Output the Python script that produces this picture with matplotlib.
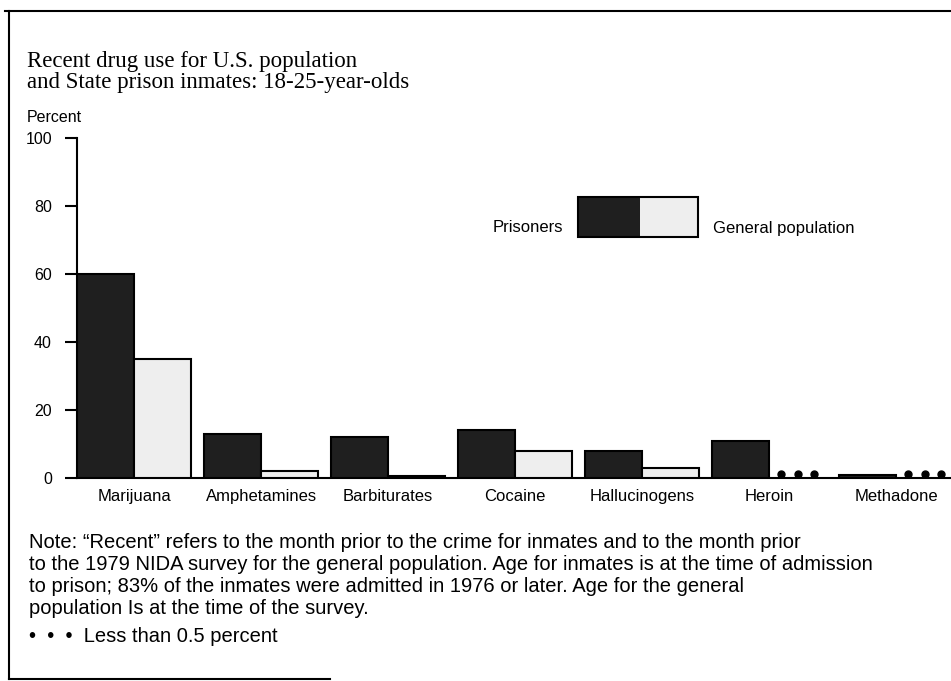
import numpy as np
import matplotlib
matplotlib.use('Agg')
import matplotlib.pyplot as plt
from matplotlib.patches import Rectangle
from matplotlib.lines import Line2D

#---DATA---
drugs = ['Marijuana', 'Amphetamines', 'Barbiturates', 'Cocaine',
	'Hallucinogens', 'Heroin', 'Methadone']
prisoners = [60, 13, 12, 14, 8, 11, 1]
# None = less than 0.5 percent (shown as dots)
general_pop = [35, 2, 0.6, 8, 3, None, None]
y_ticks = [0, 20, 40, 60, 80, 100]

title_lines = ['Recent drug use for U.S. population',
	'and State prison inmates: 18-25-year-olds']
note_lines = ['Note: \u201cRecent\u201d refers to the month prior to the crime for inmates and to the month prior',
	'to the 1979 NIDA survey for the general population. Age for inmates is at the time of admission',
	'to prison; 83% of the inmates were admitted in 1976 or later. Age for the general',
	'population Is at the time of the survey.']
dots_note = '\u2022  \u2022  \u2022  Less than 0.5 percent'

#---STYLE---
W, H = 951, 681
dark = '#1f1f1f'
light = '#eeeeee'
sans = 'Liberation Sans'
serif = 'Liberation Serif'

def fx(px):
	return px / W
def fy(py):
	return 1 - py / H

fig = plt.figure(figsize=(W / 100, H / 100), dpi=100)
ax = fig.add_axes([fx(77), fy(478), fx(951 - 77), (478 - 138) / H])

#---PLOT---
x = np.arange(len(drugs))
w = 0.45
ax.bar(x - w / 2, prisoners, width=w, color=dark, edgecolor='black', linewidth=1.5, zorder=3)
gp_x = [xi + w / 2 for xi, v in zip(x, general_pop) if v is not None]
ax.bar(gp_x, [v for v in general_pop if v is not None], width=w, color=light,
	edgecolor='black', linewidth=1.5, zorder=3)

# dots for less than 0.5 percent
for xi, v in zip(x, general_pop):
	if v is None:
		ax.plot(xi + w / 2 + np.array([-0.13, 0, 0.13]), [1.2, 1.2, 1.2], 'o',
			color='black', markersize=5, zorder=4, clip_on=False)

#---FORMATTING---
ax.set_xlim(-w, -w + (W - 77) / 127)
ax.set_ylim(0, 100)
ax.set_yticks(y_ticks)
ax.set_yticklabels([str(t) for t in y_ticks], fontsize=11.5, family=sans)
ax.set_xticks(x)
ax.set_xticklabels(drugs, fontsize=12, family=sans)
ax.tick_params(axis='y', length=9, width=1.5, pad=9)
ax.tick_params(axis='x', length=0, pad=8)
for pos in ['right', 'top']:
	ax.spines[pos].set_visible(False)
for pos in ['left', 'bottom']:
	ax.spines[pos].set_linewidth(1.5)

#---TEXT---
fig.text(fx(27), fy(67), title_lines[0], family=serif, fontsize=16.5, va='baseline')
fig.text(fx(27), fy(88), title_lines[1], family=serif, fontsize=16.5, va='baseline')
fig.text(fx(27), fy(117), 'Percent', family=sans, fontsize=11.5, va='center')

# legend drawn by hand
fig.add_artist(Rectangle((fx(578), fy(237)), fx(62), 40 / H, transform=fig.transFigure,
	facecolor=dark, edgecolor='none'))
fig.add_artist(Rectangle((fx(640), fy(237)), fx(58), 40 / H, transform=fig.transFigure,
	facecolor=light, edgecolor='none'))
fig.add_artist(Rectangle((fx(578), fy(237)), fx(120), 40 / H, transform=fig.transFigure,
	facecolor='none', edgecolor='black', linewidth=1.5))
fig.text(fx(563), fy(228), 'Prisoners', family=sans, fontsize=12, ha='right', va='center')
fig.text(fx(713), fy(229), 'General population', family=sans, fontsize=12, ha='left', va='center')

# notes
for i, line in enumerate(note_lines):
	fig.text(fx(29), fy(543 + 22 * i), line, family=sans, fontsize=14.5, va='center')
fig.text(fx(29), fy(636), dots_note, family=sans, fontsize=14.5, va='center')

# page frame
fig.add_artist(Line2D([fx(5), fx(951)], [fy(11), fy(11)], transform=fig.transFigure, color='black', linewidth=1.5))
fig.add_artist(Line2D([fx(9), fx(9)], [fy(11), fy(679)], transform=fig.transFigure, color='black', linewidth=1.5))
fig.add_artist(Line2D([fx(9), fx(330)], [fy(679), fy(679)], transform=fig.transFigure, color='black', linewidth=1.5))

#---SAVE---
plt.savefig('out.png', dpi=100)
